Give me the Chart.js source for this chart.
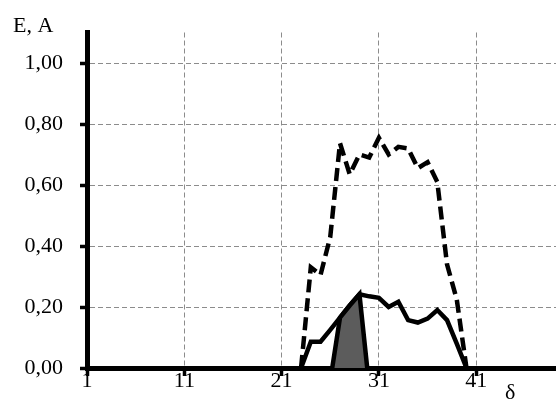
<!DOCTYPE html>
<html>
<head>
<meta charset="utf-8">
<script src="https://cdn.jsdelivr.net/npm/chart.js@4/dist/chart.umd.min.js"></script>
<style>
  html, body { margin: 0; padding: 0; background: #ffffff; }
  canvas { display: block; }
</style>
</head>
<body>
<canvas id="c" width="556" height="400"></canvas>
<script>
// ---- data ----
const deltaValues = [23, 24, 25, 26, 27, 28, 29, 30, 31, 32, 33, 34, 35, 36, 37, 38, 39, 40];
const eValues     = [0, 0.33, 0.305, 0.43, 0.737, 0.635, 0.70, 0.69, 0.755, 0.70, 0.725, 0.72, 0.655, 0.675, 0.61, 0.34, 0.225, 0];
const aValues     = [0, 0.086, 0.086, 0.125, 0.165, 0.205, 0.242, 0.235, 0.230, 0.20, 0.217, 0.157, 0.149, 0.162, 0.19, 0.157, 0.08, 0];
const areaDelta   = [26.2, 27, 28, 29, 29.8];
const areaValues  = [0, 0.165, 0.205, 0.242, 0];
const xTickValues = [1, 11, 21, 31, 41];
const yTickValues = [0, 0.2, 0.4, 0.6, 0.8, 1.0];
const yAxisTitle  = 'E, A';
const xAxisTitle  = 'δ';

const toPoints = (xs, ys) => xs.map((x, i) => ({ x: x, y: ys[i] }));

const FONT = "'Liberation Serif', 'Times New Roman', serif";
Chart.defaults.font.family = FONT;
Chart.defaults.font.size = 22;
Chart.defaults.color = '#000000';

const titlesPlugin = {
  id: 'axisTitles',
  afterDraw(chart) {
    const ctx = chart.ctx;
    ctx.save();
    ctx.fillStyle = '#000000';
    ctx.font = '22px ' + FONT;
    ctx.textAlign = 'left';
    ctx.textBaseline = 'alphabetic';
    ctx.fillText(yAxisTitle, 13, 32);
    ctx.fillText(xAxisTitle, 505, 399);
    ctx.restore();
  }
};

new Chart(document.getElementById('c'), {
  type: 'line',
  data: {
    datasets: [
      {
        label: 'area',
        data: toPoints(areaDelta, areaValues),
        borderColor: '#000000',
        backgroundColor: '#5c5c5c',
        borderWidth: 4.5,
        fill: 'origin',
        pointRadius: 0,
        tension: 0,
        order: 1
      },
      {
        label: 'A',
        data: toPoints(deltaValues, aValues),
        borderColor: '#000000',
        borderWidth: 4.5,
        fill: false,
        pointRadius: 0,
        tension: 0,
        order: 2
      },
      {
        label: 'E',
        data: toPoints(deltaValues, eValues),
        borderColor: '#000000',
        borderWidth: 4.5,
        borderDash: [13, 6],
        fill: false,
        pointRadius: 0,
        tension: 0,
        order: 3
      }
    ]
  },
  options: {
    responsive: false,
    animation: false,
    devicePixelRatio: 1,
    layout: { padding: { top: 32.5, right: 0, bottom: 0, left: 0 } },
    plugins: {
      legend: { display: false },
      tooltip: { enabled: false }
    },
    scales: {
      x: {
        type: 'linear',
        min: 1,
        max: 49.2,
        afterBuildTicks: s => { s.ticks = xTickValues.map(v => ({ value: v })); },
        afterFit: s => { s.height = 32; s.paddingLeft = 0; s.paddingRight = 0; },
        ticks: {
          padding: -6,
          font: { size: 22, lineHeight: 1 },
          callback: v => String(v),
          maxRotation: 0,
          autoSkip: false
        },
        grid: {
          color: '#8c8c8c',
          lineWidth: 1,
          drawTicks: true,
          tickLength: 8,
          tickWidth: 3.5,
          tickColor: '#000000',
          tickBorderDash: []
        },
        border: { display: true, color: '#000000', width: 5, dash: [5, 3] }
      },
      y: {
        type: 'linear',
        min: 0,
        max: 1.1,
        afterBuildTicks: s => { s.ticks = yTickValues.map(v => ({ value: v })); },
        afterFit: s => { s.width = 87; s.paddingTop = 0; s.paddingBottom = 0; },
        ticks: {
          padding: 17,
          font: { size: 22 },
          callback: v => Number(v).toFixed(2).replace('.', ',')
        },
        grid: {
          color: '#8c8c8c',
          lineWidth: 1,
          drawTicks: true,
          tickLength: 7,
          tickWidth: 3.5,
          tickColor: '#000000',
          tickBorderDash: []
        },
        border: { display: true, color: '#000000', width: 5, dash: [5, 3] }
      }
    }
  },
  plugins: [titlesPlugin]
});
</script>
</body>
</html>
